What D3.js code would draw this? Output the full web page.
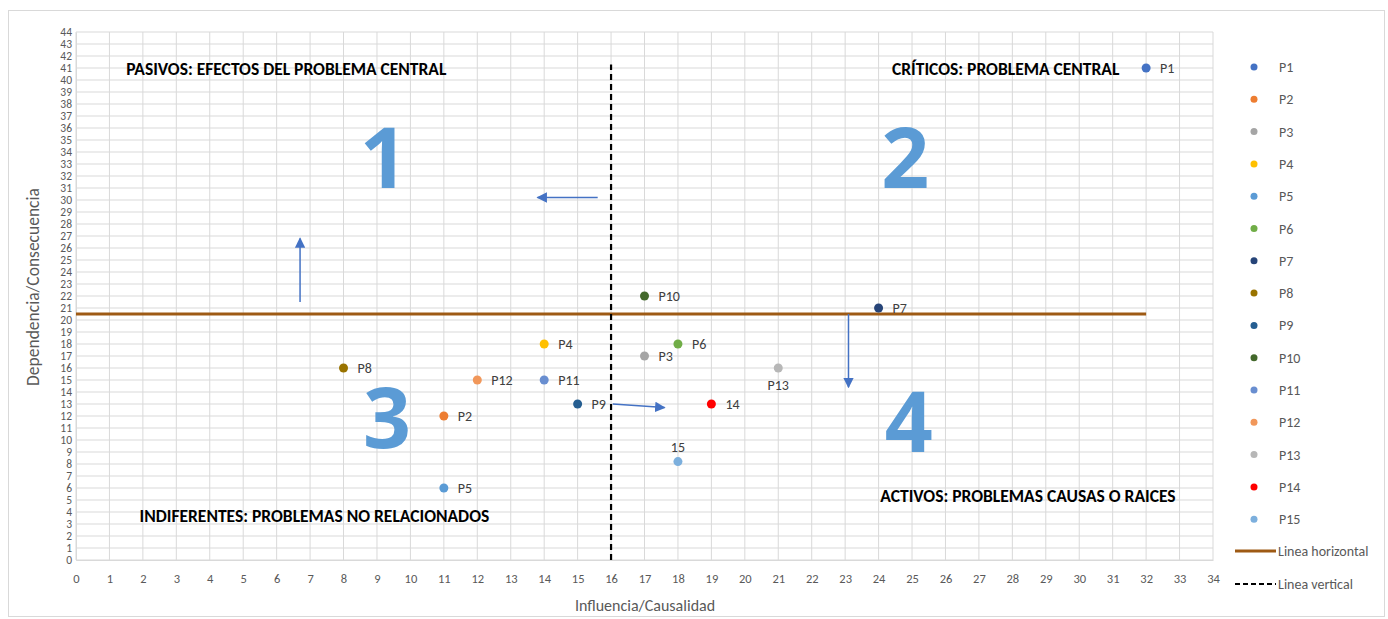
<!DOCTYPE html>
<html><head><meta charset="utf-8">
<script src="https://cdn.jsdelivr.net/npm/d3@7"></script>
<style>
body{margin:0;background:#fff;}
text{font-family:Carlito,"Liberation Sans Narrow","Open Sans",sans-serif;}
</style></head>
<body><svg id="c" width="1388" height="619"></svg>
<script>
const names = ["P1","P2","P3","P4","P5","P6","P7","P8","P9","P10","P11","P12","P13","P14","P15"];
const labels = ["P1","P2","P3","P4","P5","P6","P7","P8","P9","P10","P11","P12","P13","14","15"];
const influencia = [32,11,17,14,11,18,24,8,15,17,14,12,21,19,18];
const dependencia = [41,12,17,18,6,18,21,16,13,22,15,15,16,13,8.2];
const colors = ["#4472c4","#ed7d31","#a5a5a5","#ffc000","#5b9bd5","#70ad47","#264478","#997300","#255e91","#43682b","#698ed0","#f1975a","#b7b7b7","#ff0000","#7cafdd"];
const labelPos = ["right","right","right","right","right","right","right","right","right","right","right","right","below","right","above"];
const xTicks = d3.range(0,35);
const yTicks = d3.range(0,45);
const hLine = {y:20.5, x0:0, x1:32};
const vLine = {x:16, y0:0, y1:41.3};
const quadrantTitles = [
  {t:"PASIVOS: EFECTOS DEL PROBLEMA CENTRAL", x:1.5, y:40.45},
  {t:"CRÍTICOS: PROBLEMA CENTRAL", x:24.4, y:40.45},
  {t:"INDIFERENTES: PROBLEMAS NO RELACIONADOS", x:1.9, y:3.2},
  {t:"ACTIVOS: PROBLEMAS CAUSAS O RAICES", x:24.05, y:4.8}
];
const bigNums = [{t:"1",x:9.2,y:31},{t:"2",x:24.8,y:31},{t:"3",x:9.3,y:9.3},{t:"4",x:24.9,y:9.0}];
const arrows = [
  {x0:6.7,y0:21.5,x1:6.7,y1:26.8},
  {x0:15.6,y0:30.2,x1:13.8,y1:30.2},
  {x0:16.05,y0:13,x1:17.6,y1:12.7},
  {x0:23.1,y0:20.5,x1:23.1,y1:14.4}
];

const svg = d3.select("#c");
const L=76,R=1213,T=32,B=560;
const x = d3.scaleLinear().domain([0,34]).range([L,R]);
const y = d3.scaleLinear().domain([0,44]).range([B,T]);

svg.append("rect").attr("x",8.5).attr("y",10.5).attr("width",1376).attr("height",606).attr("fill","#fff").attr("stroke","#d9d9d9");

svg.append("defs").append("marker").attr("id","ah").attr("viewBox","0 0 10 10").attr("refX",9).attr("refY",5)
  .attr("markerWidth",7).attr("markerHeight",7).attr("orient","auto-start-reverse")
  .append("path").attr("d","M0,0 L10,5 L0,10 z").attr("fill","#4472c4");

// grid
const g = svg.append("g");
g.selectAll(".gy").data(yTicks).join("line").attr("x1",L).attr("x2",R).attr("y1",d=>y(d)).attr("y2",d=>y(d)).attr("stroke","#d9d9d9").attr("stroke-width",1);
g.selectAll(".gx").data(xTicks).join("line").attr("y1",T).attr("y2",B).attr("x1",d=>x(d)).attr("x2",d=>x(d)).attr("stroke","#d9d9d9").attr("stroke-width",1);

// axes
const ff = "Carlito,'Liberation Sans Narrow','Open Sans',sans-serif";
const xAxis = d3.axisBottom(x).tickValues(xTicks).tickSize(0).tickPadding(14);
const gx = svg.append("g").attr("transform",`translate(0,${B})`).call(xAxis);
gx.select(".domain").attr("stroke","#d9d9d9");
gx.selectAll("text").attr("fill","#595959").style("font-size","12.5px").style("font-family",ff);
const yAxis = d3.axisLeft(y).tickValues(yTicks).tickSize(0).tickPadding(4);
const gy = svg.append("g").attr("transform",`translate(${L},0)`).call(yAxis);
gy.select(".domain").attr("stroke","#d9d9d9");
gy.selectAll("text").attr("fill","#595959").style("font-size","11.5px").style("font-family",ff);

svg.append("text").attr("x",645).attr("y",611).attr("text-anchor","middle").attr("fill","#595959").style("font-size","16px").text("Influencia/Causalidad");
svg.append("text").attr("transform","translate(39,287) rotate(-90)").attr("text-anchor","middle").attr("fill","#595959").style("font-size","17.5px").text("Dependencia/Consecuencia");

// reference lines
svg.append("line").attr("x1",x(hLine.x0)).attr("x2",x(hLine.x1)).attr("y1",y(hLine.y)).attr("y2",y(hLine.y)).attr("stroke","#9e5a14").attr("stroke-width",3);
svg.append("line").attr("x1",x(vLine.x)).attr("x2",x(vLine.x)).attr("y1",y(vLine.y0)).attr("y2",y(vLine.y1)).attr("stroke","#000").attr("stroke-width",2.2).attr("stroke-dasharray","6,4");

// big numbers
svg.selectAll(".big").data(bigNums).join("text").attr("x",d=>x(d.x)).attr("y",d=>y(d.y)).attr("text-anchor","middle")
  .attr("fill","#5b9bd5").style("font-size","84px").style("font-weight","bold").style("font-family","'Open Sans',sans-serif").text(d=>d.t);

// quadrant titles
svg.selectAll(".qt").data(quadrantTitles).join("text").attr("x",d=>x(d.x)).attr("y",d=>y(d.y)).attr("fill","#000")
  .style("font-size","17.5px").style("font-weight","bold").text(d=>d.t);

// arrows
svg.selectAll(".ar").data(arrows).join("line").attr("x1",d=>x(d.x0)).attr("y1",d=>y(d.y0)).attr("x2",d=>x(d.x1)).attr("y2",d=>y(d.y1))
  .attr("stroke","#4472c4").attr("stroke-width",1.5).attr("marker-end","url(#ah)");

// points
const pts = names.map((n,i)=>({n,l:labels[i],x:influencia[i],y:dependencia[i],c:colors[i],p:labelPos[i]}));
svg.selectAll(".pt").data(pts).join("circle").attr("cx",d=>x(d.x)).attr("cy",d=>y(d.y)).attr("r",4.5).attr("fill",d=>d.c);
svg.selectAll(".pl").data(pts).join("text")
  .attr("x",d=>d.p==="right"?x(d.x)+14:x(d.x))
  .attr("y",d=>d.p==="right"?y(d.y)+5:(d.p==="below"?y(d.y)+22:y(d.y)-10))
  .attr("text-anchor",d=>d.p==="right"?"start":"middle")
  .attr("fill","#404040").style("font-size","14px").text(d=>d.l);

// legend
const lg = svg.append("g");
const ly0=67, lsp=32.3;
lg.selectAll("circle").data(pts).join("circle").attr("cx",1254).attr("cy",(d,i)=>ly0+i*lsp).attr("r",3.5).attr("fill",d=>d.c);
lg.selectAll("text").data(pts).join("text").attr("x",1279).attr("y",(d,i)=>ly0+i*lsp+5).attr("fill","#595959").style("font-size","14px").text(d=>d.n);
lg.append("line").attr("x1",1235).attr("x2",1276).attr("y1",551).attr("y2",551).attr("stroke","#9e5a14").attr("stroke-width",3);
lg.append("text").attr("x",1278).attr("y",556).attr("fill","#595959").style("font-size","14px").text("Linea horizontal");
lg.append("line").attr("x1",1235).attr("x2",1276).attr("y1",584).attr("y2",584).attr("stroke","#000").attr("stroke-width",2).attr("stroke-dasharray","5,3");
lg.append("text").attr("x",1278).attr("y",589).attr("fill","#595959").style("font-size","14px").text("Linea vertical");
</script></body></html>
